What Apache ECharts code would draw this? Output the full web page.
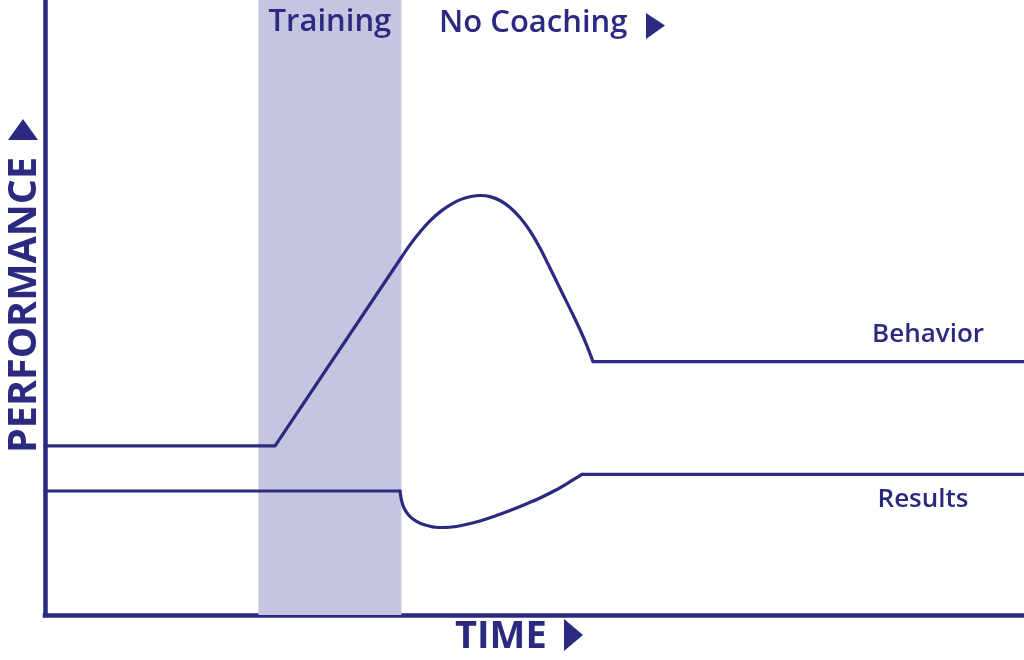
<!DOCTYPE html>
<html>
<head>
<meta charset="utf-8">
<script src="https://cdn.jsdelivr.net/npm/echarts@6/dist/echarts.min.js"></script>
<style>html,body{margin:0;padding:0;background:#fff;}#c{width:1024px;height:660px;}</style>
</head>
<body>
<div id="c"></div>
<script>
// Conceptual chart: time 0-100, performance 0-100
const trainingPeriod = [21.8, 36.4];
const behaviorPts = [[0,27.5],[23.5,27.5],[36.36,58.05],[37.39,60.42],[38.41,62.49],[39.43,64.24],[40.45,65.67],[41.47,66.78],[42.49,67.58],[43.51,68.05],[44.54,68.21],[45.45,68.03],[46.48,67.40],[47.50,66.26],[48.52,64.63],[49.54,62.44],[50.56,59.67],[51.58,56.42],[52.81,52.44],[54.14,48.13],[55.16,44.55],[55.98,41.2],[100,41.2]];
const behaviorCurveRange = [2, 21];
const resultsPts = [[0,20.16],[36.26,20.16],[36.41,18.70],[36.67,17.40],[37.18,16.18],[37.90,15.28],[38.82,14.63],[40.14,14.23],[41.57,14.31],[43.00,14.72],[44.43,15.28],[45.97,16.10],[47.50,16.99],[49.03,17.97],[50.56,19.02],[52.09,20.24],[53.42,21.46],[54.85,22.85],[100,22.85]];
const resultsCurveRange = [1, 17];
const labels = {band:'Training', after:'No Coaching', x:'TIME', y:'PERFORMANCE', behavior:'Behavior', results:'Results'};

const NAVY = '#2b2a80';
const BAND = '#c5c4e1';
const FONT = '"Open Sans", "Noto Sans", sans-serif';

function segs(pts, range, name) {
  const lineStyle = {color: NAVY, width: 3.2, cap: 'round', join: 'round'};
  const base = {type:'line', name, symbol:'none', lineStyle, silent:true, z:3, animation:false};
  return [
    Object.assign({}, base, {data: pts.slice(0, range[0]+1)}),
    Object.assign({}, base, {data: pts.slice(range[0], range[1]+1), smooth: 0.3}),
    Object.assign({}, base, {data: pts.slice(range[1])})
  ];
}

const series = [
  {type:'line', data:[], symbol:'none', silent:true, z:1,
   markArea:{silent:true, itemStyle:{color:BAND, opacity:1},
     label:{show:true, position:'insideTop', distance:7, color:NAVY, fontSize:31, fontWeight:600, fontFamily:FONT},
     data:[[{xAxis:trainingPeriod[0], name:labels.band},{xAxis:trainingPeriod[1]}]]}}
].concat(segs(behaviorPts, behaviorCurveRange, labels.behavior), segs(resultsPts, resultsCurveRange, labels.results));

const chart = echarts.init(document.getElementById('c'), null, {renderer:'canvas'});
chart.setOption({
  animation:false,
  backgroundColor:'#fff',
  grid:{left:45, right:0, top:0, bottom:45},
  xAxis:{type:'value', min:0, max:100, axisLine:{show:true, onZero:false, lineStyle:{color:NAVY, width:4.5, cap:'square'}},
         axisTick:{show:false}, axisLabel:{show:false}, splitLine:{show:false}},
  yAxis:{type:'value', min:0, max:100, axisLine:{show:true, onZero:false, lineStyle:{color:NAVY, width:4.5, cap:'square'}},
         axisTick:{show:false}, axisLabel:{show:false}, splitLine:{show:false}},
  series,
  graphic:[
    {type:'text', left:439, top:8, style:{text:labels.after, fill:NAVY, font:'600 31px '+FONT}},
    {type:'polygon', shape:{points:[[646,13],[665,25.5],[646,39]]}, style:{fill:NAVY}},
    {type:'text', left:455, top:618, style:{text:labels.x, fill:NAVY, font:'700 38px '+FONT}},
    {type:'polygon', shape:{points:[[564,619],[583,635],[564,651]]}, style:{fill:NAVY}},
    {type:'text', x:25, y:305, rotation:Math.PI/2, style:{text:labels.y, fill:NAVY, font:'700 39.5px '+FONT, align:'center', verticalAlign:'middle'}},
    {type:'polygon', shape:{points:[[8,140],[23,119],[38,140]]}, style:{fill:NAVY}},
    {type:'text', x:928, y:335, style:{text:labels.behavior, fill:NAVY, font:'600 26px '+FONT, align:'center', verticalAlign:'middle'}},
    {type:'text', x:923, y:500, style:{text:labels.results, fill:NAVY, font:'600 26px '+FONT, align:'center', verticalAlign:'middle'}}
  ]
});
</script>
</body>
</html>
